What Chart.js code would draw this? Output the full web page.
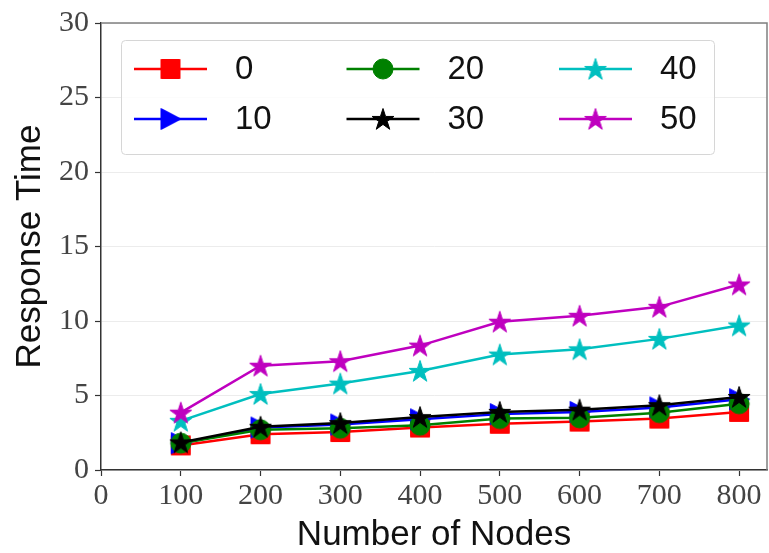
<!DOCTYPE html>
<html>
<head>
<meta charset="utf-8">
<script src="https://cdn.jsdelivr.net/npm/chart.js@4.4.1/dist/chart.umd.min.js"></script>
<style>
  body { margin: 0; background: #fff; }
  canvas { display: block; }
</style>
</head>
<body>
<canvas id="myChart" width="769" height="553"></canvas>
<script>
// data
const nodes = [100, 200, 300, 400, 500, 600, 700, 800];
const rt0  = [1.65, 2.4, 2.55, 2.85, 3.1, 3.25, 3.45, 3.9];
const rt10 = [1.8, 2.85, 3.05, 3.4, 3.75, 3.9, 4.2, 4.75];
const rt20 = [1.8, 2.7, 2.8, 3.0, 3.45, 3.5, 3.85, 4.45];
const rt30 = [1.85, 2.9, 3.15, 3.55, 3.9, 4.05, 4.35, 4.9];
const rt40 = [3.3, 5.1, 5.8, 6.65, 7.75, 8.1, 8.8, 9.7];
const rt50 = [3.85, 7.0, 7.3, 8.35, 9.95, 10.35, 10.95, 12.45];

const seriesNames = ['0', '10', '20', '30', '40', '50'];
const xTicks = [0, 100, 200, 300, 400, 500, 600, 700, 800];
const yTicks = [0, 5, 10, 15, 20, 25, 30];

//marker images (matplotlib style markers)
function makeMarker(shape, color) {
    const s = 26;
    const c = document.createElement('canvas');
    c.width = s; c.height = s;
    const ctx = c.getContext('2d');
    const m = s / 2;
    ctx.fillStyle = color;
    ctx.strokeStyle = color;
    ctx.lineWidth = 1;
    ctx.beginPath();
    if (shape == 'square') {
        ctx.rect(m - 9.5, m - 9.5, 19, 19);
    } else if (shape == 'circle') {
        ctx.arc(m, m, 10, 0, Math.PI * 2);
    } else if (shape == 'triangle') {
        ctx.moveTo(m + 10.5, m);
        ctx.lineTo(m - 9.5, m - 10.5);
        ctx.lineTo(m - 9.5, m + 10.5);
        ctx.closePath();
    } else {
        const R = 11.5, r = R * 0.382;
        for (let i = 0; i < 10; i++) {
            const rad = i % 2 == 0 ? R : r;
            const a = -Math.PI / 2 + i * Math.PI / 5;
            const px = m + rad * Math.cos(a), py = m + 1 + rad * Math.sin(a);
            if (i == 0) ctx.moveTo(px, py); else ctx.lineTo(px, py);
        }
        ctx.closePath();
    }
    ctx.fill();
    ctx.stroke();
    return c;
}

const colors = ['#ff0000', '#0000ff', '#008000', '#000000', '#00bfbf', '#bf00bf'];
const shapes = ['square', 'triangle', 'circle', 'star', 'star', 'star'];
const allSeries = [rt0, rt10, rt20, rt30, rt40, rt50];
const markers = shapes.map((sh, i) => makeMarker(sh, colors[i]));

// small radius keeps chart.js from padding the plot area; the image is drawn anyway
const datasets = allSeries.map((vals, i) => ({
    label: seriesNames[i],
    data: vals.map((v, j) => ({ x: nodes[j], y: v })),
    borderColor: colors[i],
    backgroundColor: colors[i],
    borderWidth: 2.5,
    pointStyle: markers[i],
    pointRadius: 1,
    pointHoverRadius: 0,
    pointBorderWidth: 0,
    tension: 0,
    clip: 20,
    order: allSeries.length - i // last series on top like matplotlib
}));

// legend inside the axes, 3 columns
const boxLegend = {
    id: 'boxLegend',
    afterDraw(chart) {
        const ctx = chart.ctx;
        const area = chart.chartArea;

        //top + right spines
        ctx.save();
        ctx.strokeStyle = '#808080';
        ctx.lineWidth = 1.5;
        ctx.beginPath();
        ctx.moveTo(area.left, area.top);
        ctx.lineTo(area.right, area.top);
        ctx.lineTo(area.right, area.bottom);
        ctx.stroke();

        const bx = area.left + 20, by = area.top + 17, bw = 593, bh = 114;
        ctx.fillStyle = 'rgba(255,255,255,0.85)';
        ctx.strokeStyle = '#d6d6d6';
        ctx.lineWidth = 1;
        ctx.beginPath();
        ctx.roundRect(bx + 0.5, by + 0.5, bw, bh, 4);
        ctx.fill();
        ctx.stroke();

        ctx.font = '33px "Liberation Sans", Arial, sans-serif';
        ctx.textBaseline = 'middle';
        ctx.textAlign = 'left';
        chart.data.datasets.forEach((ds, i) => {
            const col = Math.floor(i / 2), row = i % 2;
            const x0 = bx + 13 + col * 212.5;
            const y0 = by + 29 + row * 50;
            ctx.strokeStyle = ds.borderColor;
            ctx.lineWidth = 2.5;
            ctx.beginPath();
            ctx.moveTo(x0, y0);
            ctx.lineTo(x0 + 73, y0);
            ctx.stroke();
            const img = ds.pointStyle;
            ctx.drawImage(img, x0 + 36.5 - img.width / 2, y0 - img.height / 2);
            ctx.fillStyle = '#111';
            ctx.fillText(ds.label, x0 + 101, y0 + 1);
        });
        ctx.restore();
    }
};

const tickFont = { family: '"Liberation Serif", "Times New Roman", serif', size: 30 };
const titleFont = { family: '"Liberation Sans", Arial, sans-serif', size: 35 };

var myChart = new Chart(document.getElementById('myChart'), {
    type: 'line',
    data: { datasets: datasets },
    options: {
        responsive: false,
        animation: false,
        layout: { padding: { top: 23, right: 2, left: 0, bottom: 0 } },
        plugins: {
            legend: { display: false },
            tooltip: { enabled: false }
        },
        scales: {
            x: {
                type: 'linear',
                min: 0,
                max: 835,
                afterBuildTicks: (s) => { s.ticks = xTicks.map(v => ({ value: v })); },
                afterFit: (s) => { s.height = 83; s.paddingRight = 0; s.paddingLeft = 0; },
                grid: { drawOnChartArea: false, tickLength: 6, tickColor: '#333', tickWidth: 1.2 },
                border: { color: '#333', width: 1.5 },
                ticks: { font: tickFont, color: '#444', padding: 2, maxRotation: 0 },
                title: { display: true, text: 'Number of Nodes', font: titleFont, color: '#111', padding: { top: 0, bottom: -3 } }
            },
            y: {
                min: 0,
                max: 30,
                afterBuildTicks: (s) => { s.ticks = yTicks.map(v => ({ value: v })); },
                afterFit: (s) => { s.width = 101; s.paddingTop = 0; s.paddingBottom = 0; },
                grid: { color: '#ececec', lineWidth: 1, tickLength: 6, tickColor: '#333', tickWidth: 1.2 },
                border: { color: '#333', width: 1.5 },
                ticks: { font: tickFont, color: '#444', padding: 6 },
                title: { display: true, text: 'Response Time', font: titleFont, color: '#111', padding: { top: 9, bottom: 0 } }
            }
        }
    },
    plugins: [boxLegend]
});
</script>
</body>
</html>
